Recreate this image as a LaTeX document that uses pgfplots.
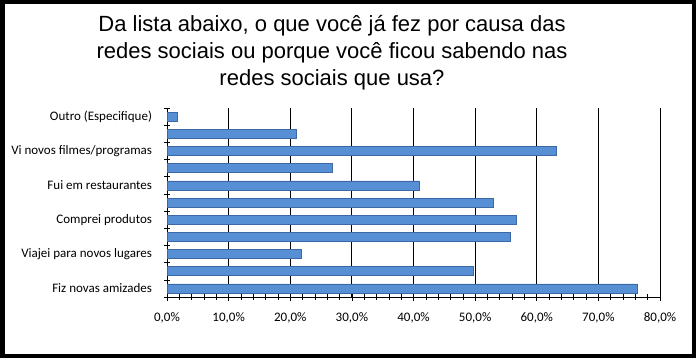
\documentclass[border=0pt]{standalone}
\usepackage{fontspec}
\setmainfont{Carlito}
\newfontfamily\arialf{Liberation Sans}
\usepackage{pgfplots}
\pgfplotsset{compat=1.18}
\definecolor{barfill}{RGB}{86,143,212}
\definecolor{bardraw}{RGB}{60,105,165}
\begin{document}
\begin{tikzpicture}[x=1bp,y=1bp]
\draw[line width=4.5bp] (2.25,2.25) rectangle (693.75,355.75);
\node[anchor=base,font=\arialf\fontsize{22bp}{26bp}\selectfont] at (332,327) {Da lista abaixo, o que você já fez por causa das};
\node[anchor=base,font=\arialf\fontsize{22bp}{26bp}\selectfont] at (332,300) {redes sociais ou porque você ficou sabendo nas};
\node[anchor=base,font=\arialf\fontsize{22bp}{26bp}\selectfont] at (332,273) {redes sociais que usa?};
\begin{axis}[
  at={(167bp,61bp)}, anchor=south west,
  scale only axis, width=493bp, height=189bp,
  xbar, bar width=9bp,
  xmin=0, xmax=80, ymin=-0.5, ymax=10.5,
  axis x line=bottom, axis y line=left,
  axis line style={black, line width=0.8bp, -},
  xtick={0,10,...,80},
  xticklabels={{0,0\%},{10,0\%},{20,0\%},{30,0\%},{40,0\%},{50,0\%},{60,0\%},{70,0\%},{80,0\%}},
  minor x tick num=4,
  ytick={0,2,4,6,8,10},
  yticklabels={Fiz novas amizades,Viajei para novos lugares,Comprei produtos,Fui em restaurantes,Vi novos filmes/programas,Outro (Especifique)},
  minor ytick={-0.5,0.5,...,10.5},
  major y tick style={draw=none},
  tick align=center,
  major tick length=7bp, minor tick length=6bp,
  tick style={black, line width=0.6bp},
  xmajorgrids, grid style={black, line width=0.8bp},
  ticklabel style={font=\fontsize{13bp}{15bp}\selectfont},
  xticklabel style={yshift=-9bp},
  yticklabel style={xshift=-8bp},
  clip=false,
]
\addplot[fill=barfill, draw=bardraw, line width=0.5bp] coordinates {
(76.3,0) (49.7,1) (21.8,2) (55.7,3) (56.7,4) (53.0,5) (40.9,6) (26.8,7) (63.1,8) (21.0,9) (1.6,10)
};
\end{axis}
\end{tikzpicture}
\end{document}
